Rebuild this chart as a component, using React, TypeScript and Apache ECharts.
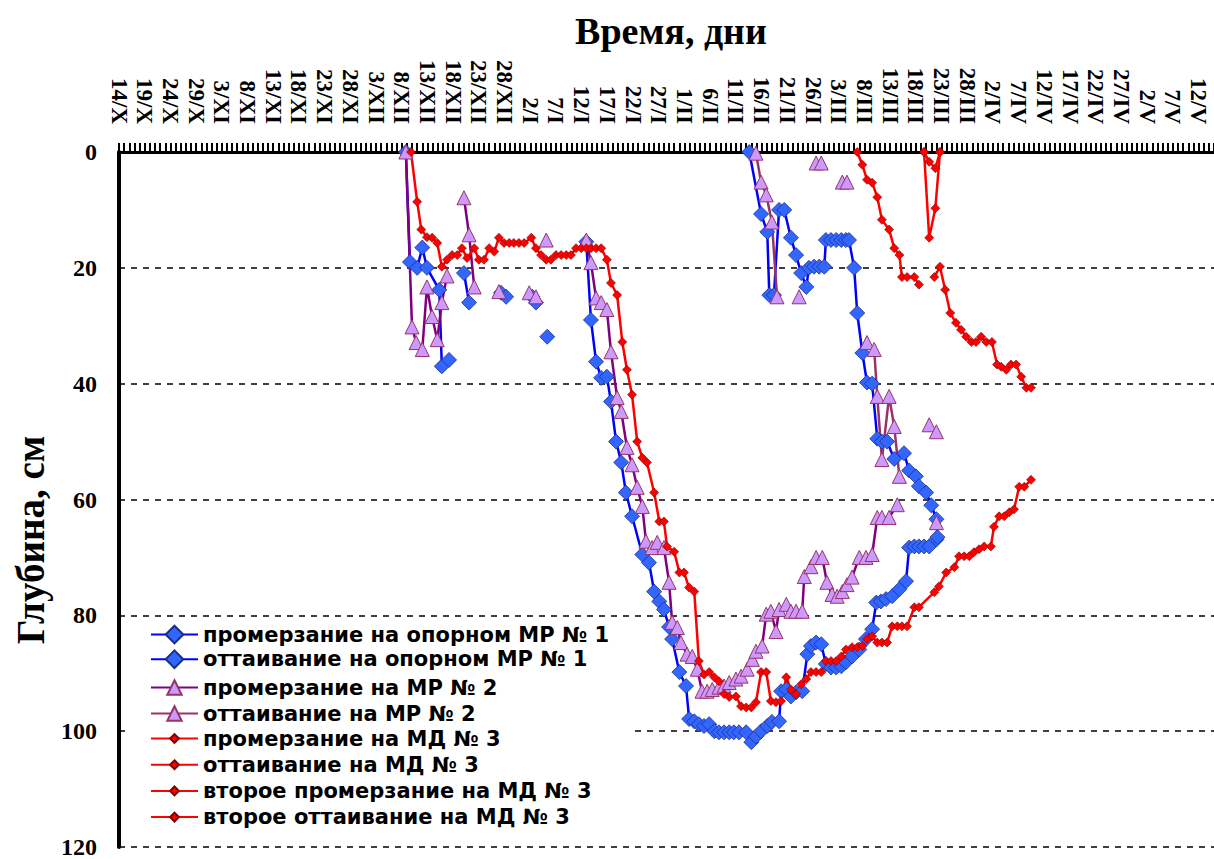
import React, { useEffect, useRef } from 'react';
import * as echarts from 'echarts';

// x: days since 14/X ; y: depth, cm
const dateTicks = ['14/X','19/X','24/X','29/X','3/XI','8/XI','13/XI','18/XI','23/XI','28/XI','3/XII','8/XII','13/XII','18/XII','23/XII','28/XII','2/I','7/I','12/I','17/I','22/I','27/I','1/II','6/II','11/II','16/II','21/II','26/II','3/III','8/III','13/III','18/III','23/III','28/III','2/IV','7/IV','12/IV','17/IV','22/IV','27/IV','2/V','7/V','12/V'];

const seriesNames = [
  'промерзание на опорном МР № 1',
  'оттаивание на опорном МР № 1',
  'промерзание на МР № 2',
  'оттаивание на МР № 2',
  'промерзание на МД № 3',
  'оттаивание на МД № 3',
  'второе промерзание на МД № 3',
  'второе оттаивание на МД № 3',
];

const blueFreeze = [
  [[55.8,0],[56.6,19],[58,20],[59,16.5],[59.9,20],[62.3,23.8],[62.8,37],[64.2,35.9]],
  [[67.1,20.9],[68.1,26]],
  [[74.3,24.3],[75.3,25]],
  [[80.4,25],[81.1,26]],
  [[83.3,31.9]],
  [[90.9,15.5],[91.8,29],[92.8,36.2],[93.8,39],[94.9,38.8],[95.7,43.1],[96.7,50],[97.7,53.6],[98.6,58.8],[99.8,62.9],[101.8,69.5],[103.1,70.9],[104.1,75.9],[105.1,77.6],[106,79],[107,82],[107.6,84.1],[109,89.8],[110.3,92.2],[110.9,97.9],[111.9,98.3],[112.8,98.8],[113.8,99.1],[114.8,98.8],[115.8,100],[116.7,100.2],[117.7,100.2],[118.7,100.2],[119.6,100.2],[120.6,100.2],[122,100.2],[123,101.9],[123.9,100.9],[124.9,100],[126.1,99.1],[127,98.4],[128.4,98.3],[128.8,93.1],[129.8,92.8],[130.7,94],[131.7,93.3],[132.9,93.1],[133.9,86.7],[134.6,85.3],[135.6,84.7],[136.6,85],[137.5,88.4],[138.5,89],[139.5,89],[140.5,88.8],[141.4,88.1],[142.6,87.1],[144,85.9],[145.3,84.1],[146.5,82.4],[147.3,77.8],[148.2,77.6],[149.2,77.2],[150.4,76.7],[151.8,75.5],[153.1,74.1],[153.7,68.3],[154.7,68.1],[155.6,68.1],[156.6,68.1],[157.6,68.1],[159,66.9]],
];

const blueThaw = [
  [[122.6,0],[124.9,10.7],[126.1,13.8],[126.5,24.7],[127.4,24.7],[128.4,10],[129.4,10],[130.7,14.8],[131.7,17.8],[132.7,20.9],[133.7,23.3],[134.2,20],[135.2,19.8],[136.2,19.8],[137.2,19.8],[137.5,15.2],[138.5,15.2],[139.5,15.2],[140.5,15.2],[141.4,15.2],[142,15.2],[143,20],[143.6,27.8],[144.6,34.7],[145.5,39.8],[146.5,40],[147.5,49.5],[148.4,50],[149.4,50],[150.8,53],[152.7,52],[153.7,55],[155,56],[155.6,57.7],[157,58.8],[158,61],[159,63.4],[159.2,66.5]],
];

const purpleFreeze = [
  [[55.8,0],[57,30.2],[57.8,32.9],[59,34.1],[59.9,23.3],[60.9,28.4],[61.9,32.4],[62.8,26],[63.8,21.4]],
  [[67.1,7.9],[68.1,14.3],[69.1,23.3]],
  [[73.9,24.1]],
  [[79.8,24.3],[81.1,25]],
  [[83.1,15.2]],
  [[90.9,15.2],[91.8,19.1],[92.8,25.2],[93.8,26],[94.9,27.2],[95.7,34.5],[96.9,42.4],[97.7,44.8],[98.8,51],[99.8,54],[100.8,57.9],[101.8,61.2],[102.5,67.2],[103.7,68.3],[104.7,67.4],[106,68.3],[107,74.3],[107.6,81.2],[108.6,82.1],[109.3,84.7],[110.5,86.7],[111.5,87.1],[112.5,89.3],[113.4,93.1],[114.4,93.1],[115.4,92.8],[116.7,92.4],[117.7,92.2],[118.7,91.6],[120,91],[121,90.5],[122.2,89.3],[123.2,87.6],[123.9,86.2],[125.1,85.3],[125.9,79.8],[126.8,79.3],[127.8,82.8],[128.4,79],[129.8,78.1],[130.7,79.3],[131.7,79.3],[132.9,79.3],[133.3,73.3],[134.6,71.6],[135.6,70],[136.8,70],[137.7,74.3],[138.7,76.4],[139.7,76.7],[140.7,75.9],[141.6,74.7],[142.6,73.4],[144,70],[145.3,70],[146.5,69.5],[147.5,63.1],[148.4,63.1],[149.8,63.1],[151.4,60.9]],
];

const purpleThaw = [
  [[123.9,0.2],[124.9,5.2],[125.9,7.4],[127,12.1],[128,25]],
  [[132.3,25]],
  [[135.6,1.9],[136.6,1.9]],
  [[140.7,5.2],[141.6,5.2]],
  [[145.5,32.9],[146.9,34.1],[147.5,42.2],[148.4,53.1],[149.8,42.2],[150.8,47.4],[151.8,56]],
  [[157.6,47.1],[159,48.3]],
  [[159,64]],
];

const redFreeze = [
  [[56.8,0],[58,8.6],[58.8,13.4],[59.9,14.7],[60.9,14.8],[61.9,15.7],[62.8,19.8],[63.8,18.6],[64.8,17.8],[65.8,17.8],[66.7,16.6],[67.7,18.3],[69.1,16.6],[70,18.6],[71,18.6],[72,16.6],[73,17.2],[73.9,14.8],[74.9,15.7],[75.9,15.7],[76.8,15.7],[77.8,15.7],[78.8,15.7],[80.2,14.8],[81.1,16.6],[82.1,17.8],[83.1,18.6],[84,18.6],[85,17.8],[86,17.8],[87,17.8],[87.9,17.8],[88.9,16.6],[89.9,16.6],[90.9,16.6],[91.8,16.6],[92.8,16.6],[93.8,16.6],[94.9,18.6],[95.7,22.6],[96.9,24.7],[97.9,32.8],[98.8,37.6],[99.8,41.9],[100.8,50],[101.8,52.8],[102.7,53.6],[104.1,58.8],[105.1,63.8],[106,63.8],[106.6,68.1],[108,69],[109,72.6],[109.9,72.6],[110.9,75.2],[111.9,75.9],[112.8,87.9],[113.8,90.2],[114.8,89.8],[115.8,90.7],[116.7,91.4],[117.7,93.6],[118.7,94.1],[120,94],[121,95.7],[122,95.9],[123,95.9],[123.9,95],[124.9,89.8],[125.9,89.8],[126.8,94.8],[127.8,95],[128.8,94.8],[129.8,90.7],[130.7,92.8],[131.7,93.6],[132.7,91.9],[133.7,91],[134.6,89.8],[135.6,89.8],[136.6,89.8],[137.5,87.9],[138.5,87.9],[139.5,87.9],[140.5,87.1],[141.4,85.9],[142.6,85.5],[143.6,85.5],[144.6,85.3],[145.5,84.1],[146.5,83.6],[147.5,84.7],[148.4,84.7],[149.4,84.7],[150.4,81.9],[151.4,81.9],[152.3,81.9],[153.3,81.9],[154.7,78.6],[155.6,78.6],[158.6,76],[159.5,75],[160.9,72.6],[162.5,71.7],[163.4,69.8],[164.4,69.8],[165.4,69.8],[166.3,69.1],[167.3,68.6],[168.3,68.1],[169.6,68.1],[170.2,64.7],[171.2,62.9],[172.2,62.9],[173.2,62.2],[174.1,61.7],[175.1,57.8],[176.1,57.8],[177.4,56.6]],
];

const redThaw = [
  [[143.6,0],[144.6,2.2],[145.5,4.8],[146.5,5.3],[147.5,7.8],[148.4,11.7],[149.8,13.4],[150.8,16.6],[151.8,17.8],[152.3,21.6],[153.3,21.6],[154.7,21.6],[155.6,22.9]],
  [[158.6,21.6],[159.7,19.8],[160.7,23.8],[161.7,27.8],[162.8,29.5],[163.8,30.7],[164.8,31.9],[165.8,32.8],[166.7,32.8],[167.7,31.9],[168.7,32.8],[169.8,32.8],[170.8,36.7],[171.6,37.1],[172.6,37.6],[173.5,36.7],[174.5,36.7],[175.5,38.8],[176.5,40.7],[177.4,40.7]],
];

const redSecondFreeze = [
  [[156.6,0],[157.6,14.8],[158.8,9.7],[159.7,0]],
];

const redSecondThaw = [
  [[156.6,0],[157.6,1.7],[158.8,2.8],[159.7,0]],
];

const depthTicks = { min: 0, max: 120, step: 20 };
const dayRange = { min: 0, max: 213, step: 5 };

function withGaps(segs: any[]) {
  const out: any[] = [];
  segs.forEach((s: any[], i: number) => {
    if (i > 0) out.push([s[0][0], '-']);
    s.forEach((p: any) => out.push(p));
  });
  return out;
}

const SERIF = "'Liberation Serif', 'Times New Roman', serif";
const SANS = "'DejaVu Sans', Verdana, sans-serif";

export default function App() {
  const ref = useRef<HTMLDivElement>(null);
  useEffect(() => {
    if (!ref.current) return;
    const chart = echarts.init(ref.current, null, { renderer: 'svg' });

    const blueStyle = {
      symbol: 'diamond', symbolSize: 15,
      lineStyle: { color: '#0000FF', width: 2.5 },
      itemStyle: { color: '#3366FF', borderColor: '#1a2f8a', borderWidth: 0.8 },
    };
    const purpleStyle = (lineColor: string) => ({
      symbol: 'triangle', symbolSize: 14,
      lineStyle: { color: lineColor, width: 2.5 },
      itemStyle: { color: '#CC99FF', borderColor: '#993366', borderWidth: 1 },
    });
    const redStyle = {
      symbol: 'diamond', symbolSize: 9,
      lineStyle: { color: '#FF0000', width: 2.5 },
      itemStyle: { color: '#FF0000', borderColor: '#800000', borderWidth: 0.6 },
    };

    const dataSets = [blueFreeze, blueThaw, purpleFreeze, purpleThaw, redFreeze, redThaw, redSecondFreeze, redSecondThaw];
    const styles = [blueStyle, blueStyle, purpleStyle('#800080'), purpleStyle('#993366'), redStyle, redStyle, redStyle, redStyle];

    const series = dataSets.map((segs, i) => ({
      type: 'line',
      name: seriesNames[i],
      data: withGaps(segs),
      showSymbol: true,
      connectNulls: false,
      clip: false,
      ...styles[i],
    }));

    const legendText = { fontFamily: SANS, fontWeight: 'bold', fontSize: 21, color: '#000' };
    const legendBase = { orient: 'vertical', left: 150, padding: 0, itemWidth: 47, textStyle: legendText, selectedMode: false };

    chart.setOption({
      animation: false,
      backgroundColor: '#fff',
      grid: { left: 119, top: 152, right: 0, bottom: 11, containLabel: false },
      xAxis: {
        type: 'value', position: 'top',
        min: dayRange.min, max: dayRange.max, interval: dayRange.step,
        axisLine: { show: true, onZero: false, lineStyle: { color: '#000', width: 3 } },
        axisTick: { show: true, inside: false, length: 9, lineStyle: { color: '#000', width: 2 } },
        minorTick: { show: true, splitNumber: 5, length: 9, lineStyle: { color: '#000', width: 2 } },
        axisLabel: {
          rotate: 90, margin: 28, fontFamily: SERIF, fontWeight: 'bold', fontSize: 23, color: '#000',
          formatter: (v: number) => {
            const k = Math.round(v / dayRange.step);
            return Math.abs(v - k * dayRange.step) < 1e-6 && k < dateTicks.length ? dateTicks[k] : '';
          },
        },
        splitLine: { show: false },
      },
      yAxis: {
        type: 'value', inverse: true,
        min: depthTicks.min, max: depthTicks.max, interval: depthTicks.step,
        axisLine: { show: true, onZero: false, lineStyle: { color: '#000', width: 4 } },
        axisTick: { show: false },
        axisLabel: { fontFamily: SERIF, fontWeight: 'bold', fontSize: 24, color: '#000', margin: 22 },
        splitLine: { show: true, lineStyle: { color: '#000', width: 1.5, type: [6, 6] } },
      },
      legend: [
        { ...legendBase, top: 624, itemHeight: 22, itemGap: 3.7, data: [seriesNames[0], seriesNames[1]] },
        { ...legendBase, top: 677, itemHeight: 18, itemGap: 5, data: [seriesNames[2], seriesNames[3]] },
        { ...legendBase, top: 728, itemHeight: 11, itemGap: 5.2, data: [seriesNames[4], seriesNames[5], seriesNames[6], seriesNames[7]] },
      ],
      graphic: [
        { type: 'rect', z: 3, shape: { x: 130, y: 619, width: 500, height: 214 }, style: { fill: '#fff' } },
        { type: 'text', x: 671, y: 31, style: { text: 'Время, дни', font: `bold 38px ${SERIF}`, fill: '#000', textAlign: 'center', textVerticalAlign: 'middle' } },
        { type: 'text', x: 30, y: 540, rotation: Math.PI / 2, style: { text: 'Глубина, см', font: `bold 39px ${SERIF}`, fill: '#000', textAlign: 'center', textVerticalAlign: 'middle' } },
      ],
      series,
    });
    return () => chart.dispose();
  }, []);
  return <div ref={ref} style={{ position: 'absolute', left: 0, top: 0, width: 1214, height: 859 }} />;
}
